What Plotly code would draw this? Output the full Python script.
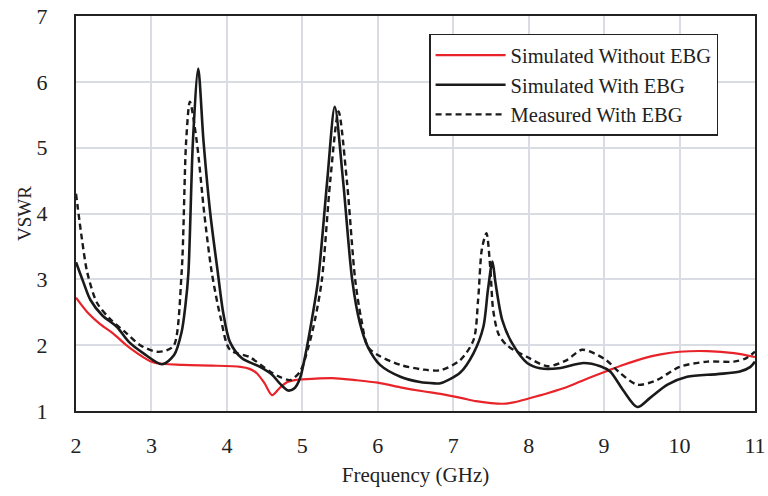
import plotly.graph_objects as go

# Simulated Without EBG (red)
red_x = [2.0, 2.15, 2.32, 2.49, 2.7, 3.02, 3.42, 3.8, 4.18, 4.3, 4.4, 4.5, 4.6, 4.7, 4.8, 4.9,
         5.0, 5.4, 5.7, 6.0, 6.3, 6.6, 6.83, 7.1, 7.3, 7.5, 7.65, 7.8, 8.0, 8.25, 8.5, 8.75,
         9.02, 9.25, 9.52, 9.75, 10.0, 10.37, 10.72, 11.0]
red_y = [2.72, 2.5, 2.32, 2.18, 1.97, 1.74, 1.7, 1.69, 1.67, 1.64, 1.57, 1.42, 1.24, 1.35, 1.44, 1.47,
         1.48, 1.5, 1.47, 1.43, 1.36, 1.3, 1.26, 1.2, 1.15, 1.12, 1.11, 1.13, 1.19, 1.27, 1.36, 1.48,
         1.6, 1.7, 1.8, 1.86, 1.9, 1.91, 1.88, 1.82]

# Simulated With EBG (black solid)
sim_x = [2.0, 2.1, 2.19, 2.35, 2.54, 2.7, 2.89, 3.14, 3.3, 3.4, 3.45, 3.49, 3.55, 3.62, 3.69,
         3.78, 3.88, 3.95, 4.04, 4.2, 4.44, 4.6, 4.7, 4.81, 4.9, 4.97, 5.04, 5.12, 5.21, 5.33,
         5.43, 5.54, 5.66, 5.76, 5.87, 6.03, 6.3, 6.56, 6.75, 6.83, 7.09, 7.27, 7.4, 7.46, 7.52,
         7.56, 7.65, 7.78, 7.98, 8.15, 8.4, 8.73, 8.95, 9.08, 9.25, 9.44, 9.61, 9.84, 10.1,
         10.5, 10.8, 10.94, 11.0]
sim_y = [3.26, 2.95, 2.69, 2.45, 2.28, 2.05, 1.88, 1.71, 1.85, 2.2, 2.6, 3.1, 5.1, 6.2, 5.1,
         4.0, 3.1, 2.5, 2.05, 1.8, 1.67, 1.55, 1.42, 1.31, 1.35, 1.5, 1.85, 2.35, 3.0, 4.5,
         5.62, 4.5, 3.0, 2.35, 1.97, 1.7, 1.52, 1.44, 1.42, 1.42, 1.58, 1.88, 2.28, 2.84, 3.27,
         2.95, 2.38, 2.03, 1.73, 1.65, 1.65, 1.73, 1.68, 1.6, 1.32, 1.06, 1.2, 1.4, 1.52,
         1.56, 1.6, 1.67, 1.75]

# Measured With EBG (black dashed)
mea_x = [2.0, 2.08, 2.15, 2.28, 2.45, 2.67, 2.85, 3.07, 3.2, 3.3, 3.4, 3.46, 3.51, 3.6, 3.7,
         3.8, 3.92, 4.04, 4.3, 4.57, 4.7, 4.84, 4.97, 5.08, 5.17, 5.26, 5.37, 5.48, 5.59, 5.7,
         5.78, 5.87, 6.0, 6.3, 6.6, 6.83, 7.09, 7.27, 7.33, 7.38, 7.44, 7.49, 7.53, 7.6, 7.71,
         7.98, 8.25, 8.5, 8.71, 9.02, 9.19, 9.44, 9.7, 10.0, 10.37, 10.72, 10.88, 11.0]
mea_y = [4.3, 3.6, 3.1, 2.64, 2.4, 2.18, 2.0, 1.9, 1.92, 2.0, 3.1, 5.1, 5.7, 5.1, 4.0,
         3.1, 2.4, 1.93, 1.82, 1.6, 1.52, 1.47, 1.6, 1.97, 2.4, 3.0, 4.5, 5.55, 4.5, 3.0,
         2.4, 1.97, 1.85, 1.7, 1.63, 1.62, 1.77, 2.08, 2.69, 3.46, 3.7, 3.19, 2.53, 2.17, 2.0,
         1.82, 1.68, 1.77, 1.93, 1.78, 1.6, 1.4, 1.47, 1.67, 1.75, 1.75, 1.8, 1.9]

x_ticks = [2, 3, 4, 5, 6, 7, 8, 9, 10, 11]
y_ticks = [1, 2, 3, 4, 5, 6, 7]

font_family = "Liberation Serif"

fig = go.Figure()
fig.add_trace(go.Scatter(x=red_x, y=red_y, mode="lines", name="Simulated Without EBG",
                         line=dict(color="#e8232a", width=2.2, shape="spline", smoothing=0.8)))
fig.add_trace(go.Scatter(x=sim_x, y=sim_y, mode="lines", name="Simulated With EBG",
                         line=dict(color="#1a1a1a", width=2.6, shape="spline", smoothing=0.8)))
fig.add_trace(go.Scatter(x=mea_x, y=mea_y, mode="lines", name="Measured With EBG",
                         line=dict(color="#1a1a1a", width=2.4, dash="6px,4px", shape="spline", smoothing=0.8)))

fig.update_layout(
    width=768, height=496,
    margin=dict(l=76, r=13, t=16, b=85),
    paper_bgcolor="white", plot_bgcolor="white",
    font=dict(family=font_family, size=22, color="#222"),
    showlegend=True,
    legend=dict(x=0.52, y=0.955, xanchor="left", yanchor="top",
                bgcolor="white", bordercolor="#222", borderwidth=1.5,
                font=dict(family=font_family, size=20.5, color="#222"),
                itemwidth=70, tracegroupgap=0),
    xaxis=dict(range=[2, 11], tickvals=x_ticks, ticktext=[str(v) for v in x_ticks],
               showgrid=True, gridcolor="#d9dce3", gridwidth=1.5,
               showline=True, linecolor="#222", linewidth=2, mirror=True,
               ticks="", ticklabelstandoff=14, zeroline=False, automargin=False,
               title=dict(text="Frequency (GHz)", standoff=10, font=dict(size=21))),
    yaxis=dict(range=[1, 7], tickvals=y_ticks, ticktext=[str(v) for v in y_ticks],
               showgrid=True, gridcolor="#d9dce3", gridwidth=1.5,
               showline=True, linecolor="#222", linewidth=2, mirror=True,
               ticks="", ticklabelstandoff=22, zeroline=False, automargin=False,
               title=dict(text="VSWR", standoff=0, font=dict(size=19))),
)

fig.write_html("out.html")
